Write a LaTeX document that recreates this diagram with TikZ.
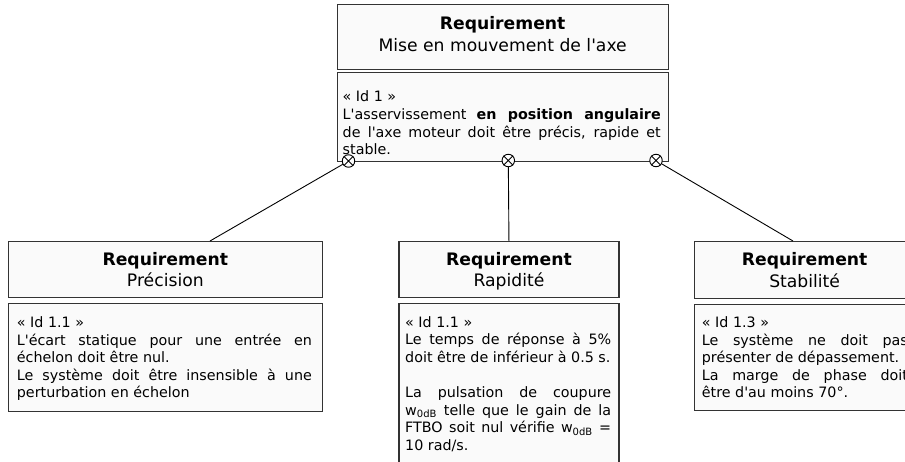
\documentclass[tikz,border=0pt]{standalone}
\usepackage{fontspec}
\setmainfont{DejaVu Sans}
\newfontfamily\reqfont{DejaVu Sans}
\usetikzlibrary{positioning}
\hbadness=10000

\begin{document}
\begin{tikzpicture}[x=1pt,y=-1pt,
  headbox/.style={draw=reqline, fill=reqfill, line width=1.3pt, inner sep=0pt, anchor=north west},
  bodybox/.style={headbox},
  headtext/.style={align=center, inner sep=0pt, font=\reqfont\fontsize{17.2}{21.5}\selectfont},
  bodytext/.style={align=justify, inner sep=0pt, anchor=north west, text width=#1, font=\reqfont\fontsize{14.3}{17.6}\selectfont},
  marker/.style={circle, draw=black, fill=white, line width=0.9pt, minimum size=12.5pt, inner sep=0pt},
  link/.style={draw=black, line width=0.9pt}]
% --- CORES ---
\definecolor{reqline}{HTML}{333333}
\definecolor{reqfill}{HTML}{FAFAFA}

\useasboundingbox (0,0) rectangle (905,461);
\clip (0,0) rectangle (905,461);

% LAYER 1: Exigence principale
\node[headbox, minimum width=331pt, minimum height=65pt] (mainhead) at (336.5,4) {};
\node[headtext] (maintitle) at ([yshift=3pt]mainhead.center) {\textbf{Requirement}\\Mise en mouvement de l'axe};
\node[bodybox, minimum width=331pt, minimum height=89pt] (mainbody) at (336.5,72) {};
\node[bodytext=318pt] (maintxt) at (342.5,90.8) {« Id 1 »\\L'asservissement \textbf{en position angulaire}\linebreak de l'axe moteur doit être précis, rapide et\linebreak stable.};

% LAYER 2: Sous-exigences
\node[headbox, minimum width=314pt, minimum height=56pt] (prechead) at (7.7,240.7) {};
\node[headtext] (prectitle) at (prechead.center) {\textbf{Requirement}\\Précision};
\node[bodybox, minimum width=314pt, minimum height=107.7pt] (precbody) at (7.7,303) {};
\node[bodytext=295pt] (prectxt) at (16.7,316.5) {« Id 1.1 »\\L'écart statique pour une entrée en\linebreak échelon doit être nul.\\Le système doit être insensible à une\linebreak perturbation en échelon};

\node[headbox, minimum width=220pt, minimum height=56pt] (rapihead) at (398.3,241) {};
\node[headtext] (rapititle) at ([yshift=-1.5pt]rapihead.center) {\textbf{Requirement}\\Rapidité};
\node[bodybox, minimum width=220pt, minimum height=170pt] (rapibody) at (398.3,302.7) {};
\node[bodytext=206pt] (rapitxt) at (405,316) {« Id 1.1 »\\Le temps de réponse à 5\%\linebreak doit être de inférieur à 0.5 s.\\[17.6pt]La pulsation de coupure\linebreak w\textsubscript{0dB} telle que le gain de la\linebreak FTBO soit nul vérifie w\textsubscript{0dB} =\linebreak 10 rad/s.};

\node[headbox, minimum width=220pt, minimum height=57pt] (stabhead) at (694,241) {};
\node[headtext] (stabtitle) at (stabhead.center) {\textbf{Requirement}\\Stabilité};
\node[bodybox, minimum width=220pt, minimum height=106pt] (stabbody) at (694,304) {};
\node[bodytext=206pt] (stabtxt) at (701.7,316.5) {« Id 1.3 »\\Le système ne doit pas\linebreak présenter de dépassement.\\La marge de phase doit\linebreak être d'au moins 70°.};

% LAYER 3: Liens de composition
\node[marker] (mk1) at (348.5,161) {};
\node[marker] (mk2) at (508.3,160.5) {};
\node[marker] (mk3) at (656,160.5) {};
\foreach \m in {mk1,mk2,mk3}
  \draw[line width=0.9pt] (\m.45) -- (\m.225) (\m.135) -- (\m.315);

\coordinate (precend) at (210,241);
\coordinate (stabend) at (793,241);
\draw[link] (mk1) -- (precend);
\draw[link] (mk2) -- (rapihead.north);
\draw[link] (mk3) -- (stabend);
\end{tikzpicture}
\end{document}
